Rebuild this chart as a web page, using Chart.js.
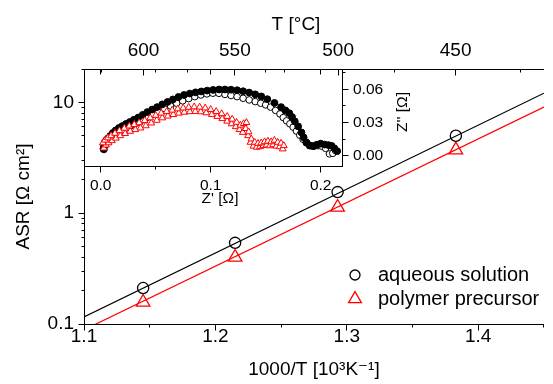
<!DOCTYPE html>
<html><head><meta charset="utf-8">
<script src="https://cdn.jsdelivr.net/npm/chart.js@4.4.0/dist/chart.umd.min.js"></script>
<style>
html,body{margin:0;padding:0;background:#fff;}
#wrap{position:relative;width:553px;height:384px;overflow:hidden;}
canvas{position:absolute;left:0;top:0;}
</style></head><body>
<div id="wrap"><canvas id="main" width="553" height="384"></canvas><canvas id="inset" width="553" height="384"></canvas></div>
<script>
const FONT = "'Liberation Sans', Arial, 'DejaVu Sans', sans-serif";

// ---- main plot: ASR vs 1000/T ----
const invTemp = [1.145, 1.215, 1.293, 1.383];
const asrAqueous = [0.211, 0.54, 1.55, 5.0];
const asrPolymer = [0.157, 0.40, 1.13, 3.72];
const fitInvTemp = [1.1, 1.45];
const fitAqueous = [0.116, 12.1];
const fitPolymer = [0.0886, 9.05];

// ---- tick values / labels ----
const xTickValues = [1.1, 1.2, 1.3, 1.4];
const xMinorValues = [1.15, 1.25, 1.35, 1.45];
const yTickValues = [0.1, 1, 10];
const yMinorValues = [0.2, 0.3, 0.4, 0.5, 0.6, 0.7, 0.8, 0.9, 2, 3, 4, 5, 6, 7, 8, 9, 20];
const tempTickLabels = [600, 550, 500, 450];
const tempMinorValues = [625, 575, 525, 475, 425];
const zReTickValues = [0, 0.1, 0.2];
const zReMinorValues = [0.05, 0.15];
const zImTickValues = [0, 0.03, 0.06];
const zImMinorValues = [0.015, 0.045, 0.075];

// ---- inset: impedance spectra (Z', Z'') ----
const aqFilledRe = [0.0025,0.0030,0.0038,0.0050,0.0066,0.0086,0.0110,0.0136,0.0165,0.0196,0.0230,0.0265,0.0302,0.0341,0.0382,0.0424,0.0468,0.0513,0.0560,0.0608,0.0657,0.0707,0.0758,0.0810,0.0862,0.0915,0.0968,0.1022,0.1076,0.1130,0.1185,0.1240,0.1295,0.1350,0.1405,0.1460,0.1515,0.1580,0.1640,0.1680,0.1715,0.1740,0.1765,0.1795,0.1825,0.1845,0.1870,0.1900,0.1930,0.1965,0.2000,0.2035,0.2070,0.2100,0.2125,0.2150];
const aqFilledIm = [0.0060,0.0090,0.0118,0.0138,0.0155,0.0178,0.0205,0.0228,0.0250,0.0268,0.0287,0.0305,0.0325,0.0345,0.0370,0.0395,0.0418,0.0440,0.0465,0.0487,0.0510,0.0532,0.0550,0.0563,0.0574,0.0582,0.0590,0.0596,0.0600,0.0600,0.0598,0.0593,0.0584,0.0572,0.0556,0.0537,0.0512,0.0478,0.0440,0.0410,0.0385,0.0350,0.0310,0.0265,0.0210,0.0165,0.0120,0.0090,0.0085,0.0098,0.0108,0.0100,0.0095,0.0088,0.0065,0.0040];
const aqOpenRe = [0.0030,0.0042,0.0060,0.0085,0.0115,0.0150,0.0190,0.0232,0.0276,0.0322,0.0370,0.0420,0.0472,0.0525,0.0580,0.0635,0.0690,0.0745,0.0800,0.0855,0.0910,0.0965,0.1020,0.1075,0.1130,0.1185,0.1240,0.1295,0.1350,0.1405,0.1455,0.1500,0.1545,0.1590,0.1630,0.1660,0.1690,0.1720,0.1750,0.1780,0.1810,0.1840,0.1870,0.1905,0.1940,0.1975,0.2010,0.2045,0.2080,0.2110,0.2135];
const aqOpenIm = [0.0055,0.0095,0.0125,0.0150,0.0175,0.0200,0.0225,0.0250,0.0272,0.0295,0.0320,0.0345,0.0372,0.0398,0.0425,0.0450,0.0475,0.0497,0.0517,0.0535,0.0550,0.0560,0.0566,0.0565,0.0555,0.0545,0.0535,0.0520,0.0505,0.0490,0.0475,0.0460,0.0440,0.0410,0.0378,0.0345,0.0315,0.0288,0.0258,0.0222,0.0185,0.0148,0.0115,0.0092,0.0085,0.0090,0.0085,0.0065,0.0015,0.0020,0.0045];
const polyARe = [0.0020,0.0040,0.0065,0.0095,0.0130,0.0170,0.0215,0.0260,0.0305,0.0350,0.0400,0.0450,0.0500,0.0550,0.0600,0.0650,0.0700,0.0750,0.0800,0.0850,0.0900,0.0950,0.1000,0.1050,0.1100,0.1150,0.1195,0.1235,0.1270,0.1300,0.1325,0.1345,0.1370,0.1400,0.1430,0.1460,0.1490,0.1520,0.1550,0.1580,0.1610,0.1640,0.1665];
const polyAIm = [0.0115,0.0140,0.0160,0.0180,0.0202,0.0225,0.0248,0.0268,0.0282,0.0298,0.0318,0.0342,0.0365,0.0385,0.0400,0.0412,0.0424,0.0432,0.0438,0.0442,0.0440,0.0432,0.0418,0.0400,0.0380,0.0355,0.0330,0.0302,0.0275,0.0290,0.0300,0.0215,0.0150,0.0120,0.0110,0.0115,0.0125,0.0130,0.0125,0.0138,0.0120,0.0112,0.0090];
const polyBRe = [0.0028,0.0048,0.0072,0.0102,0.0138,0.0178,0.0222,0.0268,0.0315,0.0362,0.0410,0.0460,0.0510,0.0560,0.0610,0.0660,0.0710,0.0760,0.0810,0.0860,0.0910,0.0960,0.1010,0.1060,0.1105,0.1150,0.1190,0.1228,0.1262,0.1292,0.1318,0.1340,0.1362,0.1388,0.1418,0.1448,0.1478,0.1508,0.1538,0.1568,0.1598,0.1628,0.1655];
const polyBIm = [0.0068,0.0095,0.0115,0.0135,0.0158,0.0180,0.0200,0.0220,0.0235,0.0250,0.0270,0.0295,0.0320,0.0342,0.0358,0.0372,0.0385,0.0393,0.0398,0.0400,0.0397,0.0388,0.0373,0.0355,0.0335,0.0312,0.0288,0.0262,0.0235,0.0210,0.0245,0.0180,0.0120,0.0085,0.0075,0.0080,0.0090,0.0095,0.0088,0.0098,0.0085,0.0080,0.0060];

const pts = (xs, ys) => xs.map((x, i) => ({x, y: ys[i]}));
const celsiusToInv = t => 1000 / (t + 273.15);

// draws tick marks (major/minor, inward/outward) at the chart-area edges through the scales
function tickMarks(id, specs) {
  return {id, afterDraw(chart) {
    const ctx = chart.ctx, a = chart.chartArea;
    ctx.save(); ctx.strokeStyle = '#000'; ctx.lineWidth = 1; ctx.beginPath();
    for (const s of specs) {
      const sc = chart.scales[s.scale];
      const list = s.major.map(v => [v, s.len[0]]).concat(s.minor.map(v => [v, s.len[1]]));
      for (const [v, len] of list) {
        const p = Math.round(sc.getPixelForValue(v) - 0.5) + 0.5;
        if (s.edge === 'bottom' || s.edge === 'top') {
          const y = Math.round(a[s.edge] - 0.5) + 0.5;
          ctx.moveTo(p, y); ctx.lineTo(p, y + s.dir * len);
        } else {
          const x = Math.round(a[s.edge] - 0.5) + 0.5;
          ctx.moveTo(x, p); ctx.lineTo(x + s.dir * len, p);
        }
      }
    }
    ctx.stroke(); ctx.restore();
  }};
}

function textPlugin(id, items) {
  return {id, afterDraw(chart) {
    const ctx = chart.ctx;
    for (const t of items) {
      ctx.save();
      ctx.font = t.size + 'px ' + FONT; ctx.fillStyle = '#000';
      ctx.textAlign = 'center'; ctx.textBaseline = 'middle';
      ctx.translate(t.x, t.y); if (t.rot) ctx.rotate(t.rot);
      ctx.fillText(t.text, 0, 0);
      ctx.restore();
    }
  }};
}

const legendPlugin = {id: 'insideLegend', afterDraw(chart) {
  const ctx = chart.ctx;
  const entries = [{ds: 2, y: 275, base: 281}, {ds: 3, y: 299, base: 305}];
  for (const e of entries) {
    const ds = chart.data.datasets[e.ds];
    ctx.save();
    ctx.fillStyle = '#fff'; ctx.strokeStyle = ds.borderColor; ctx.lineWidth = ds.pointBorderWidth;
    Chart.helpers.drawPoint(ctx, {pointStyle: ds.pointStyle, radius: ds.legendRadius, rotation: 0, borderWidth: ds.pointBorderWidth}, 355, e.y);
    ctx.fillStyle = '#000'; ctx.font = '20px ' + FONT; ctx.textAlign = 'left'; ctx.textBaseline = 'alphabetic';
    ctx.fillText(ds.label, 378, e.base);
    ctx.restore();
  }
}};

const axisBase = () => ({
  grid: {display: false, drawTicks: false, tickLength: 0},
  border: {display: true, color: '#000', width: 1},
});

new Chart(document.getElementById('main'), {
  type: 'scatter',
  data: {datasets: [
    {label: 'fit aqueous', data: pts(fitInvTemp, fitAqueous), showLine: true, borderColor: '#000', borderWidth: 1.2, pointRadius: 0, fill: false},
    {label: 'fit polymer', data: pts(fitInvTemp, fitPolymer), showLine: true, borderColor: '#ff0000', borderWidth: 1.2, pointRadius: 0, fill: false},
    {label: 'aqueous solution', data: pts(invTemp, asrAqueous), showLine: false, pointStyle: 'circle', pointRadius: 5.6, legendRadius: 5, borderColor: '#000', backgroundColor: '#fff', pointBorderWidth: 1.3},
    {label: 'polymer precursor', data: pts(invTemp, asrPolymer), showLine: false, pointStyle: 'triangle', pointRadius: 7.8, legendRadius: 7.4, borderColor: '#ff0000', backgroundColor: '#fff', pointBorderWidth: 1.3}
  ]},
  options: {
    responsive: false, animation: false, devicePixelRatio: 1,
    layout: {padding: 0},
    plugins: {legend: {display: false}, tooltip: {enabled: false}},
    scales: {
      x: Object.assign(axisBase(), {
        type: 'linear', position: 'bottom', min: 1.1, max: 1.45,
        afterBuildTicks: s => { s.ticks = xTickValues.map(v => ({value: v})); },
        afterFit: s => { s.height = 60; },
        ticks: {color: '#000', font: {family: FONT, size: 19}, padding: 1.5, maxRotation: 0, autoSkip: false, callback: v => v.toFixed(1)},
        title: {display: true, text: '1000/T [10³K⁻¹]', color: '#000', font: {family: FONT, size: 19}, padding: {top: 0, bottom: 2.6}}
      }),
      xTop: Object.assign(axisBase(), {
        type: 'linear', position: 'top', min: 1.1, max: 1.45,
        afterBuildTicks: s => { s.ticks = tempTickLabels.map(t => ({value: celsiusToInv(t)})); },
        afterFit: s => { s.height = 69; },
        ticks: {color: '#000', font: {family: FONT, size: 19}, padding: 6.6, maxRotation: 0, autoSkip: false, callback: (v, i) => String(tempTickLabels[i])}
      }),
      y: Object.assign(axisBase(), {
        type: 'logarithmic', position: 'left', min: 0.1, max: 20,
        afterBuildTicks: s => { s.ticks = yTickValues.map(v => ({value: v})); },
        afterFit: s => { s.width = 84; },
        ticks: {color: '#000', font: {family: FONT, size: 19}, padding: 10, autoSkip: false, callback: v => String(v)},
        title: {display: true, text: 'ASR [Ω cm²]', color: '#000', font: {family: FONT, size: 19}, padding: {top: 12.6, bottom: 0}}
      })
    }
  },
  plugins: [
    tickMarks('mainTicks', [
      {scale: 'x', edge: 'bottom', dir: 1, len: [6, 3], major: xTickValues, minor: xMinorValues},
      {scale: 'y', edge: 'left', dir: -1, len: [6, 3], major: yTickValues, minor: yMinorValues},
      {scale: 'xTop', edge: 'top', dir: 1, len: [6, 3], major: tempTickLabels.map(celsiusToInv), minor: tempMinorValues.map(celsiusToInv)}
    ]),
    textPlugin('mainTitles', [{text: 'T [°C]', x: 296, y: 25, size: 19}]),
    legendPlugin
  ]
});

new Chart(document.getElementById('inset'), {
  type: 'scatter',
  data: {datasets: [
    {label: 'polymer precursor A', data: pts(polyARe, polyAIm), pointStyle: 'triangle', pointRadius: 3.9, borderColor: '#ff0000', backgroundColor: '#fff', pointBorderWidth: 1, xAxisID: 'ix', yAxisID: 'iy'},
    {label: 'polymer precursor B', data: pts(polyBRe, polyBIm), pointStyle: 'triangle', pointRadius: 3.9, borderColor: '#ff0000', backgroundColor: '#fff', pointBorderWidth: 1, xAxisID: 'ix', yAxisID: 'iy'},
    {label: 'aqueous solution A', data: pts(aqFilledRe, aqFilledIm), pointStyle: 'circle', pointRadius: 3.4, borderColor: '#000', backgroundColor: '#000', pointBorderWidth: 1, xAxisID: 'ix', yAxisID: 'iy'},
    {label: 'aqueous solution B', data: pts(aqOpenRe, aqOpenIm), pointStyle: 'circle', pointRadius: 3.3, borderColor: '#000', backgroundColor: '#fff', pointBorderWidth: 1, xAxisID: 'ix', yAxisID: 'iy'}
  ]},
  options: {
    responsive: false, animation: false, devicePixelRatio: 1,
    layout: {padding: {left: 84, top: 69, right: 141, bottom: 173}},
    plugins: {legend: {display: false}, tooltip: {enabled: false}},
    scales: {
      ix: Object.assign(axisBase(), {
        type: 'linear', position: 'bottom', min: -0.0152, max: 0.2194,
        afterBuildTicks: s => { s.ticks = zReTickValues.map(v => ({value: v})); },
        afterFit: s => { s.height = 45; },
        ticks: {color: '#000', font: {family: FONT, size: 15.5}, padding: 10.7, maxRotation: 0, autoSkip: false, callback: v => v.toFixed(1)}
      }),
      iy: Object.assign(axisBase(), {
        type: 'linear', position: 'right', min: -0.0095, max: 0.0786,
        afterBuildTicks: s => { s.ticks = zImTickValues.map(v => ({value: v})); },
        afterFit: s => { s.width = 70; },
        ticks: {color: '#000', font: {family: FONT, size: 15.5}, padding: 11, autoSkip: false, callback: v => v.toFixed(2)}
      })
    }
  },
  plugins: [
    tickMarks('insetTicks', [
      {scale: 'ix', edge: 'bottom', dir: 1, len: [6, 3], major: zReTickValues, minor: zReMinorValues},
      {scale: 'ix', edge: 'top', dir: 1, len: [5, 3], major: zReTickValues, minor: zReMinorValues},
      {scale: 'iy', edge: 'right', dir: 1, len: [6, 3], major: zImTickValues, minor: zImMinorValues}
    ]),
    textPlugin('insetTitles', [
      {text: "Z' [Ω]", x: 220, y: 199, size: 15.5},
      {text: "Z'' [Ω]", x: 403, y: 112, size: 15.5, rot: -Math.PI / 2}
    ])
  ]
});
</script>
</body></html>
